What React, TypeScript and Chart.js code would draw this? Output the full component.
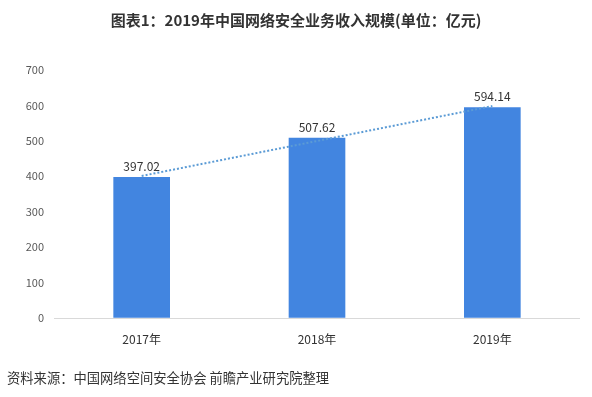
import React, { useEffect, useRef } from "react";
import { Chart, registerables } from "chart.js";

Chart.register(...registerables);

const categories = ["2017年", "2018年", "2019年"];
const revenue = [397.02, 507.62, 594.14];
const trend = [401.0, 499.6, 598.2];
const yTicks = [0, 100, 200, 300, 400, 500, 600, 700];
const titleText = "图表1：2019年中国网络安全业务收入规模(单位：亿元)";
const sourceText = "资料来源：中国网络空间安全协会 前瞻产业研究院整理";

const FONT = "'Noto Sans CJK SC', 'Noto Sans', sans-serif";

const valueLabels = {
  id: "valueLabels",
  afterDatasetsDraw(chart: any) {
    const ctx = chart.ctx;
    const meta = chart.getDatasetMeta(0);
    ctx.save();
    ctx.font = `12px ${FONT}`;
    ctx.fillStyle = "#333333";
    ctx.textAlign = "center";
    ctx.textBaseline = "bottom";
    meta.data.forEach((bar: any, i: number) => {
      ctx.fillText(revenue[i].toFixed(2), bar.x, bar.y - 5);
    });
    ctx.restore();
  },
};

export default function App() {
  const ref = useRef<HTMLCanvasElement>(null);
  useEffect(() => {
    document.body.style.margin = "0";
    const chart = new Chart(ref.current!, {
      type: "bar",
      data: {
        labels: categories,
        datasets: [
          {
            type: "bar",
            data: revenue,
            backgroundColor: "#4285E0",
            barThickness: 56,
            order: 2,
          },
          {
            type: "line",
            data: trend,
            borderColor: "#5B9BD5",
            borderWidth: 2,
            borderDash: [2, 2],
            pointRadius: 0,
            fill: false,
            order: 1,
          } as any,
        ],
      },
      options: {
        animation: false,
        responsive: false,
        layout: { padding: { top: 70, right: 12, bottom: 49, left: 0 } },
        plugins: {
          legend: { display: false },
          tooltip: { enabled: false },
          title: { display: false },
        },
        scales: {
          x: {
            grid: { display: false },
            border: { display: false },
            ticks: { color: "#333333", font: { family: FONT, size: 12 }, padding: 6 },
            afterFit: (s: any) => { s.height = 30; },
          },
          y: {
            min: 0,
            max: 700,
            afterBuildTicks: (s: any) => { s.ticks = yTicks.map((v) => ({ value: v })); },
            grid: {
              color: (c: any) => (c.tick && c.tick.value === 0 ? "#D9D9D9" : "transparent"),
              drawTicks: false,
            },
            border: { display: false },
            ticks: { color: "#595959", font: { family: FONT, size: 11 }, padding: 10 },
            afterFit: (s: any) => { s.width = 54; },
          },
        },
      },
      plugins: [valueLabels],
    });
    return () => chart.destroy();
  }, []);
  return (
    <div style={{ position: "relative", width: 592, height: 397, background: "#fff" }}>
      <canvas ref={ref} width={592} height={397} style={{ display: "block" }} />
      <div
        style={{
          position: "absolute", top: 9, left: 0, width: 592, textAlign: "center",
          fontFamily: FONT, fontWeight: "bold", fontSize: 15, color: "#333333", lineHeight: "22px",
        }}
      >
        {titleText}
      </div>
      <div
        style={{
          position: "absolute", top: 368, left: 7, fontFamily: FONT, fontSize: 13.3,
          color: "#333333", lineHeight: "20px",
        }}
      >
        {sourceText}
      </div>
    </div>
  );
}
